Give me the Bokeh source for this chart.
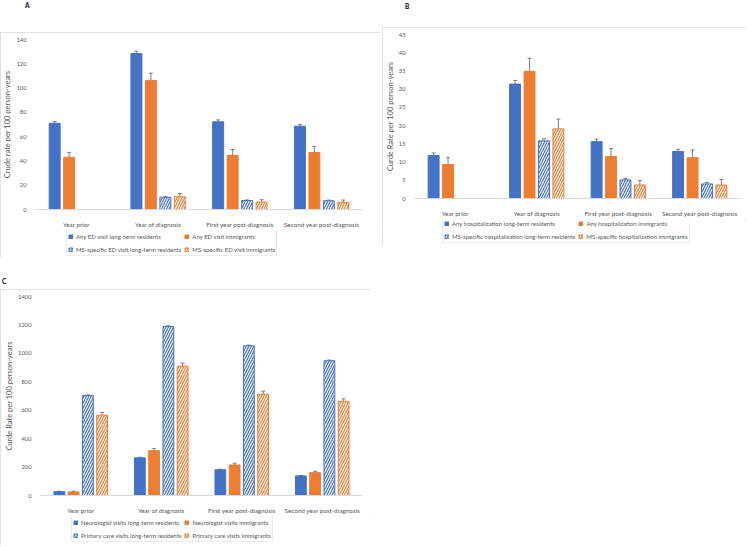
from bokeh.plotting import figure
from bokeh.models import (ColumnDataSource, Whisker, TeeHead, Legend, LegendItem,
                          FixedTicker, Range1d, Div)
from bokeh.layouts import column, row
from bokeh.embed import file_html
from bokeh.resources import INLINE

periods = ["Year prior", "Year of diagnosis", "First year post-diagnosis", "Second year post-diagnosis"]

# Panel A: ED visits
a_labels = ["Any ED visit long-term residents", "Any ED visit immigrants",
            "MS-specific ED visit long-term residents", "MS-specific ED visit immigrants"]
a_any_ltr = [71.0, 128.4, 72.2, 68.6]
a_any_ltr_err = [1.5, 2.0, 1.6, 1.5]
a_any_imm = [43.0, 106.3, 44.6, 47.0]
a_any_imm_err = [4.0, 6.0, 4.8, 5.0]
a_ms_ltr = [None, 10.1, 7.4, 7.2]
a_ms_ltr_err = [None, 0.7, 0.5, 0.5]
a_ms_imm = [None, 10.6, 6.1, 5.8]
a_ms_imm_err = [None, 2.5, 2.0, 2.0]

# Panel B: hospitalizations
b_labels = ["Any hospitalization long-term residents", "Any hospitalization immigrants",
            "MS-specific hospitalization long-term residents", "MS-specific hospitalization immigrants"]
b_any_ltr = [11.8, 31.4, 15.6, 12.9]
b_any_ltr_err = [0.7, 1.0, 0.7, 0.6]
b_any_imm = [9.3, 34.9, 11.5, 11.2]
b_any_imm_err = [1.9, 3.6, 2.2, 2.1]
b_ms_ltr = [None, 15.8, 5.1, 4.0]
b_ms_ltr_err = [None, 0.6, 0.4, 0.4]
b_ms_imm = [None, 19.1, 3.7, 3.7]
b_ms_imm_err = [None, 2.7, 1.2, 1.5]

# Panel C: physician visits
c_labels = ["Neurologist visits long-term residents", "Neurologist visits immigrants",
            "Primary care visits long-term residents", "Primary care visits immigrants"]
c_neuro_ltr = [27, 265, 181, 138]
c_neuro_ltr_err = [3, 4, 4, 3]
c_neuro_imm = [25, 315, 215, 161]
c_neuro_imm_err = [6, 15, 12, 9]
c_pc_ltr = [703, 1189, 1053, 948]
c_pc_ltr_err = [5, 5, 5, 5]
c_pc_imm = [565, 910, 712, 662]
c_pc_imm_err = [20, 22, 22, 18]

BLUE = "#4472C4"
ORANGE = "#ED7D31"
GREY = "#7F7F7F"
TXT = "#595959"
FONT = "Lato"
COLORS = [BLUE, ORANGE, BLUE, ORANGE]
HATCHED = [False, False, True, True]
BAR_W = 0.134
STEP = 0.177


def bar_style(k):
    c = COLORS[k]
    if HATCHED[k]:
        return dict(fill_color="white", line_color=c, line_width=1, hatch_pattern="/",
                    hatch_color=c, hatch_scale=5, hatch_weight=1.2)
    return dict(fill_color=c, line_color=c, line_width=1)


def make_chart(series, errs, ylabel, ymax, ystep, width, height,
               mb_left, mb_right, mb_top, mb_bottom):
    p = figure(width=width, height=height, x_range=Range1d(0, 4), y_range=Range1d(0, ymax),
               output_backend="svg", toolbar_location=None,
               min_border_left=mb_left, min_border_right=mb_right,
               min_border_top=mb_top, min_border_bottom=mb_bottom)
    sources = []
    for k in range(4):
        xs, tops, lo, hi = [], [], [], []
        for i in range(4):
            v = series[k][i]
            if v is None:
                continue
            xs.append(i + 0.5 + (k - 1.5) * STEP)
            tops.append(v)
            lo.append(v - errs[k][i])
            hi.append(v + errs[k][i])
        src = ColumnDataSource(dict(x=xs, top=tops, lo=lo, hi=hi))
        sources.append(src)
        p.vbar(x="x", top="top", width=BAR_W, source=src, **bar_style(k))
        wk = Whisker(source=src, base="x", upper="hi", lower="lo", line_color=GREY,
                     line_width=1,
                     upper_head=TeeHead(size=4, line_color=GREY, line_width=1),
                     lower_head=TeeHead(size=4, line_color=GREY, line_width=1))
        p.add_layout(wk)

    p.xaxis.ticker = FixedTicker(ticks=[0.5, 1.5, 2.5, 3.5])
    p.xaxis.major_label_overrides = {i + 0.5: periods[i] for i in range(4)}
    p.xaxis.axis_line_color = "#d9d9d9"
    p.xaxis.major_tick_line_color = None
    p.xaxis.minor_tick_line_color = None
    p.xaxis.major_label_text_font_size = "6.3px"
    p.xaxis.major_label_text_color = TXT
    p.xaxis.major_label_text_font = FONT
    p.xaxis.major_label_standoff = 5

    p.yaxis.ticker = FixedTicker(ticks=list(range(0, ymax + 1, ystep)))
    p.yaxis.axis_line_color = None
    p.yaxis.major_tick_line_color = None
    p.yaxis.minor_tick_line_color = None
    p.yaxis.major_label_text_font_size = "5.8px"
    p.yaxis.major_label_text_color = TXT
    p.yaxis.major_label_text_font = FONT
    p.yaxis.major_label_standoff = 3
    p.yaxis.axis_label = ylabel
    p.yaxis.axis_label_text_font_size = "7.5px"
    p.yaxis.axis_label_text_font_style = "normal"
    p.yaxis.axis_label_text_color = TXT
    p.yaxis.axis_label_text_font = FONT
    p.yaxis.axis_label_standoff = 1

    p.xgrid.visible = False
    p.ygrid.visible = False
    p.outline_line_color = None
    return p, sources


def make_legend(labels, sources, width, height, mb_left, mb_right, lx, ly):
    # legend-only strip: hidden copies of the series renderers supply the swatches
    f = figure(width=width, height=height, x_axis_type=None, y_axis_type=None,
               x_range=Range1d(0, 4), y_range=Range1d(0, 1),
               output_backend="svg", toolbar_location=None,
               min_border_left=mb_left, min_border_right=mb_right,
               min_border_bottom=0, min_border_top=0)
    f.outline_line_color = None
    f.xgrid.visible = False
    f.ygrid.visible = False
    items = []
    for k in range(4):
        r = f.vbar(x="x", top="top", width=BAR_W, source=sources[k], visible=False,
                   **bar_style(k))
        items.append(LegendItem(label=labels[k], renderers=[r]))
    leg = Legend(items=items, orientation="horizontal", ncols=2, location=(lx, ly),
                 border_line_color="#d9d9d9", border_line_width=1,
                 label_text_font_size="6px", label_text_color=TXT, label_text_font=FONT,
                 glyph_width=5, glyph_height=5, label_standoff=3, label_height=10,
                 spacing=3, padding=1, margin=0, background_fill_color="white",
                 inactive_fill_alpha=0, click_policy="none")
    f.add_layout(leg, "center")
    return f


def letter(t, w, h, pad_left, top):
    return Div(text=f'<div style="position:relative;left:{pad_left}px;top:{top}px;'
                    f'font:bold 6.5px {FONT};color:#000;line-height:7px">{t}</div>',
               width=w, height=h, margin=0)


BOX = {"outline": "1px solid #d9d9d9", "outline-offset": "-1px"}

chartA, srcA = make_chart([a_any_ltr, a_any_imm, a_ms_ltr, a_ms_imm],
                          [a_any_ltr_err, a_any_imm_err, a_ms_ltr_err, a_ms_imm_err],
                          "Crude rate per 100 person-years", 140, 20,
                          width=380, height=198, mb_left=34, mb_right=18, mb_top=7, mb_bottom=15)
legA = make_legend(a_labels, srcA, 380, 28, 34, 18, 31, 2)
panelA = column(chartA, legA, spacing=0, styles=BOX)

chartB, srcB = make_chart([b_any_ltr, b_any_imm, b_ms_ltr, b_ms_imm],
                          [b_any_ltr_err, b_any_imm_err, b_ms_ltr_err, b_ms_imm_err],
                          "Curde Rate per 100 person-years", 45, 5,
                          width=363, height=192, mb_left=28, mb_right=5, mb_top=7, mb_bottom=14)
legB = make_legend(b_labels, srcB, 363, 28, 28, 5, 28, 4)
panelB = column(chartB, legB, spacing=0, styles=BOX)

chartC, srcC = make_chart([c_neuro_ltr, c_neuro_imm, c_pc_ltr, c_pc_imm],
                          [c_neuro_ltr_err, c_neuro_imm_err, c_pc_ltr_err, c_pc_imm_err],
                          "Curde Rate per 100 person-years", 1400, 200,
                          width=370, height=227, mb_left=40, mb_right=8, mb_top=7, mb_bottom=14)
legC = make_legend(c_labels, srcC, 370, 30, 40, 8, 31, 4)
panelC = column(chartC, legC, spacing=0, styles=BOX)

colA = column(letter("A", 380, 32, 25, -4), panelA, spacing=0)
colB = column(letter("B", 363, 27, 23, -3), panelB, spacing=0)
top_row = row(colA, Div(width=2, height=10, margin=0), colB, spacing=0)
layout = column(top_row, letter("C", 370, 31, 2, 14), panelC, spacing=0)

open("out.html", "w").write(file_html(layout, INLINE))
